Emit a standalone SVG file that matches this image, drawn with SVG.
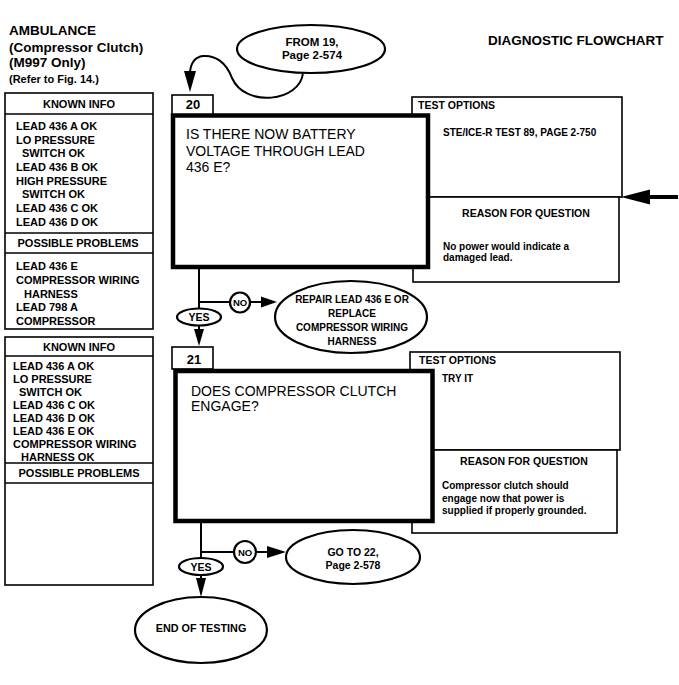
<svg xmlns="http://www.w3.org/2000/svg" width="679" height="685" viewBox="0 0 679 685">
<style>
text { font-family: "Liberation Sans", Arial, Helvetica, sans-serif; font-weight: bold; fill: #000; }
.h { font-size: 13.5px; }
.s { font-size: 11px; }
.l { font-size: 11px; }
.r { font-size: 10.5px; }
.n { font-size: 10px; }
.q { font-size: 14px; font-weight: normal; }
.e { font-size: 10.5px; }
.c { text-anchor: middle; }
.box { fill: #fff; stroke: #000; stroke-width: 1.6; }
.thick { fill: #fff; stroke: #000; stroke-width: 4.5; }
.line { fill: none; stroke: #000; stroke-width: 2; }
.oval { fill: #fff; stroke: #000; stroke-width: 2.2; }
.head { fill: #000; stroke: none; }
</style>
<rect width="679" height="685" fill="#fff"/>

<g id="title">
<text class="h" x="9" y="35">AMBULANCE</text>
<text class="h" x="9" y="52">(Compressor Clutch)</text>
<text class="h" x="9" y="67">(M997 Only)</text>
<text class="s" x="9" y="83">(Refer to Fig. 14.)</text>
<text class="h" x="488" y="45">DIAGNOSTIC FLOWCHART</text>
</g>

<g id="from19">
<ellipse class="oval" cx="311" cy="49" rx="74" ry="24"/>
<text class="e c" x="312" y="46" style="font-size:11.5px">FROM 19,</text>
<text class="e c" x="312" y="59" style="font-size:11.5px">Page 2-574</text>
</g>

<g id="info1">
<rect class="box" x="5" y="93" width="148" height="236"/>
<line class="line" x1="5" y1="114" x2="153" y2="114" style="stroke-width:1.6"/>
<line class="line" x1="5" y1="233" x2="153" y2="233" style="stroke-width:1.6"/>
<line class="line" x1="5" y1="253" x2="153" y2="253" style="stroke-width:1.6"/>
<text class="l c" x="79" y="108">KNOWN INFO</text>
<text class="l" x="16" y="130">LEAD 436 A OK</text>
<text class="l" x="16" y="143.5">LO PRESSURE</text>
<text class="l" x="22" y="157">SWITCH OK</text>
<text class="l" x="16" y="171">LEAD 436 B OK</text>
<text class="l" x="16" y="184.5">HIGH PRESSURE</text>
<text class="l" x="22" y="198">SWITCH OK</text>
<text class="l" x="16" y="212">LEAD 436 C OK</text>
<text class="l" x="16" y="225.5">LEAD 436 D OK</text>
<text class="l c" x="78" y="247">POSSIBLE PROBLEMS</text>
<text class="l" x="16" y="270">LEAD 436 E</text>
<text class="l" x="16" y="284">COMPRESSOR WIRING</text>
<text class="l" x="24" y="297.5">HARNESS</text>
<text class="l" x="16" y="311">LEAD 798 A</text>
<text class="l" x="16" y="324.5">COMPRESSOR</text>
</g>

<g id="info2">
<rect class="box" x="5" y="337" width="148" height="248"/>
<line class="line" x1="5" y1="356" x2="153" y2="356" style="stroke-width:1.6"/>
<line class="line" x1="5" y1="463" x2="153" y2="463" style="stroke-width:1.6"/>
<line class="line" x1="5" y1="483" x2="153" y2="483" style="stroke-width:1.6"/>
<text class="l c" x="79" y="351">KNOWN INFO</text>
<text class="l" x="13" y="369.5">LEAD 436 A OK</text>
<text class="l" x="13" y="382.5">LO PRESSURE</text>
<text class="l" x="19" y="395.5">SWITCH OK</text>
<text class="l" x="13" y="408.5">LEAD 436 C OK</text>
<text class="l" x="13" y="421.5">LEAD 436 D OK</text>
<text class="l" x="13" y="434.5">LEAD 436 E OK</text>
<text class="l" x="13" y="447.5">COMPRESSOR WIRING</text>
<text class="l" x="21" y="460.5">HARNESS OK</text>
<text class="l c" x="79" y="477">POSSIBLE PROBLEMS</text>
</g>

<g id="side20">
<rect class="box" x="412" y="97" width="210" height="100"/>
<rect class="box" x="413" y="197" width="206" height="85"/>
<text class="r" x="418" y="109">TEST OPTIONS</text>
<text class="n" x="443" y="135.5">STE/ICE-R TEST 89, PAGE 2-750</text>
<text class="r c" x="526" y="217">REASON FOR QUESTION</text>
<text class="n" x="443" y="249.5">No power would indicate a</text>
<text class="n" x="443" y="261">damaged lead.</text>
</g>

<g id="step20">
<rect class="box" x="172" y="95" width="41" height="20"/>
<text class="c" x="193" y="108.5" style="font-size:13px">20</text>
<rect class="thick" x="173" y="115.5" width="255" height="151.5"/>
<text class="q" x="186" y="139">IS THERE NOW BATTERY</text>
<text class="q" x="186" y="156">VOLTAGE THROUGH LEAD</text>
<text class="q" x="186" y="172">436 E?</text>
</g>

<g id="repair">
<ellipse class="oval" cx="351" cy="317" rx="76" ry="36"/>
<text class="e c" x="352" y="302.5" style="font-size:10px">REPAIR LEAD 436 E OR</text>
<text class="e c" x="352" y="316.5" style="font-size:10px">REPLACE</text>
<text class="e c" x="352" y="330.5" style="font-size:10px">COMPRESSOR WIRING</text>
<text class="e c" x="352" y="344.5" style="font-size:10px">HARNESS</text>
</g>

<g id="side21">
<rect class="box" x="410" y="352" width="210" height="98"/>
<rect class="box" x="412" y="450" width="205" height="83"/>
<text class="r" x="419" y="364">TEST OPTIONS</text>
<text class="n" x="442" y="381.5">TRY IT</text>
<text class="r c" x="524" y="464.5">REASON FOR QUESTION</text>
<text class="n" x="442" y="489">Compressor clutch should</text>
<text class="n" x="442" y="502">engage now that power is</text>
<text class="n" x="442" y="514">supplied if properly grounded.</text>
</g>

<g id="step21">
<rect class="box" x="172" y="347" width="41" height="22"/>
<text class="c" x="194" y="363.5" style="font-size:13px">21</text>
<rect class="thick" x="175.5" y="371" width="257" height="150"/>
<text class="q" x="191" y="396">DOES COMPRESSOR CLUTCH</text>
<text class="q" x="191" y="411">ENGAGE?</text>
</g>

<g id="goto22">
<ellipse class="oval" cx="353" cy="557" rx="67" ry="27"/>
<text class="e c" x="353" y="556">GO TO 22,</text>
<text class="e c" x="353" y="569">Page 2-578</text>
</g>

<g id="end">
<ellipse class="oval" cx="201" cy="630" rx="66" ry="33"/>
<text class="e c" x="201" y="632" style="font-size:10.8px">END OF TESTING</text>
</g>

<g id="connectors">
<path class="line" d="M303,73 C300,102 245,108 232,78 C226,62 215,55 203,56 C195,57 191,62 190,72"/>
<polygon class="head" points="190,92 184,71 196,71"/>

<line class="line" x1="640" y1="197" x2="678" y2="197" style="stroke-width:4"/>
<polygon class="head" points="621,197 650,189.5 650,204.5"/>

<line class="line" x1="199" y1="268" x2="199" y2="309"/>
<line class="line" x1="199" y1="302" x2="230" y2="302"/>
<line class="line" x1="250" y1="302" x2="264" y2="302"/>
<polygon class="head" points="277,302 261,296.5 261,307.5"/>
<line class="line" x1="199" y1="325" x2="199" y2="332"/>
<polygon class="head" points="199,346 194,329 204,329"/>

<line class="line" x1="201" y1="523" x2="201" y2="558"/>
<line class="line" x1="201" y1="552" x2="234" y2="552"/>
<line class="line" x1="256" y1="552" x2="270" y2="552"/>
<polygon class="head" points="286,552 267,546 267,558"/>
<line class="line" x1="201" y1="575" x2="201" y2="580"/>
<polygon class="head" points="201,597 196,578 206,578"/>
</g>

<g id="labels">
<ellipse class="oval" cx="199" cy="317" rx="22" ry="8.5"/>
<text class="c" x="199" y="321" style="font-size:10.5px">YES</text>
<circle class="oval" cx="240" cy="302.5" r="10"/>
<text class="c" x="240" y="306" style="font-size:9.5px">NO</text>
<ellipse class="oval" cx="201" cy="566.5" rx="22" ry="8.5"/>
<text class="c" x="201" y="570.5" style="font-size:10.5px">YES</text>
<circle class="oval" cx="245" cy="552" r="11"/>
<text class="c" x="245" y="555.5" style="font-size:9.5px">NO</text>
</g>
</svg>
